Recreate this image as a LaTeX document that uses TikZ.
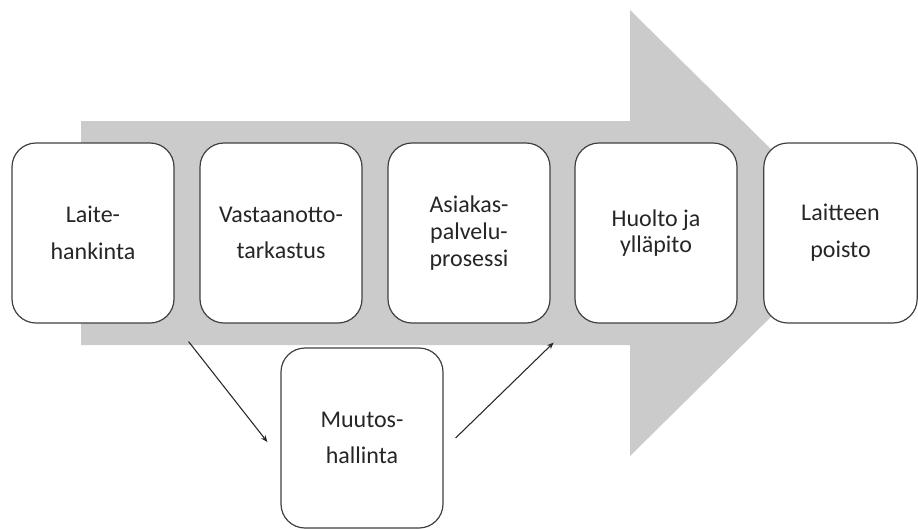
\documentclass[tikz,border=0pt]{standalone}
\usepackage{fontspec}
\setmainfont{Carlito}
\usetikzlibrary{arrows.meta}
\definecolor{flowgray}{RGB}{203,203,203}

\begin{document}
\begin{tikzpicture}[x=0.75pt,y=-0.75pt,
    phase/.style={draw=black!75, line width=0.9pt, fill=white, rounded corners=18pt,
      minimum width=121.5pt, minimum height=135pt, align=center, text=black!85},
    wide/.style={font=\fontsize{18}{27.5}\selectfont},
    tight/.style={font=\fontsize{18}{20}\selectfont},
    link/.style={line width=0.8pt, draw=black!85, -{Stealth[length=5pt,width=4pt]}}]
  \useasboundingbox (0,0) rectangle (918,529);
  % the big flow arrow behind the boxes
  \fill[flowgray] (81,121) -- (630,121) -- (630,10) -- (856,233)
    -- (630,456) -- (630,345) -- (81,345) -- cycle;
  \node[phase, wide]  (laite)   at (93,233)    {Laite-\\hankinta};
  \node[phase, wide]  (vastaan) at (281,233)   {Vastaanotto-\\tarkastus};
  \node[phase, tight] (asiakas) at (469,233)   {Asiakas-\\palvelu-\\prosessi};
  \node[phase, tight] (huolto)  at (656,233)   {Huolto ja\\ylläpito};
  \node[phase, wide, minimum width=115pt] (poisto) at (840.5,233) {Laitteen\\poisto};
  \node[phase, wide]  (muutos)  at (362,438)   {Muutos-\\hallinta};
  \draw[link] ([shift={(14,18)}]laite.south east) -- ([shift={(-13,4)}]muutos.west);
  \draw[link] ([shift={(12,0)}]muutos.east) -- ([shift={(3,19)}]asiakas.south east);
\end{tikzpicture}
\end{document}
